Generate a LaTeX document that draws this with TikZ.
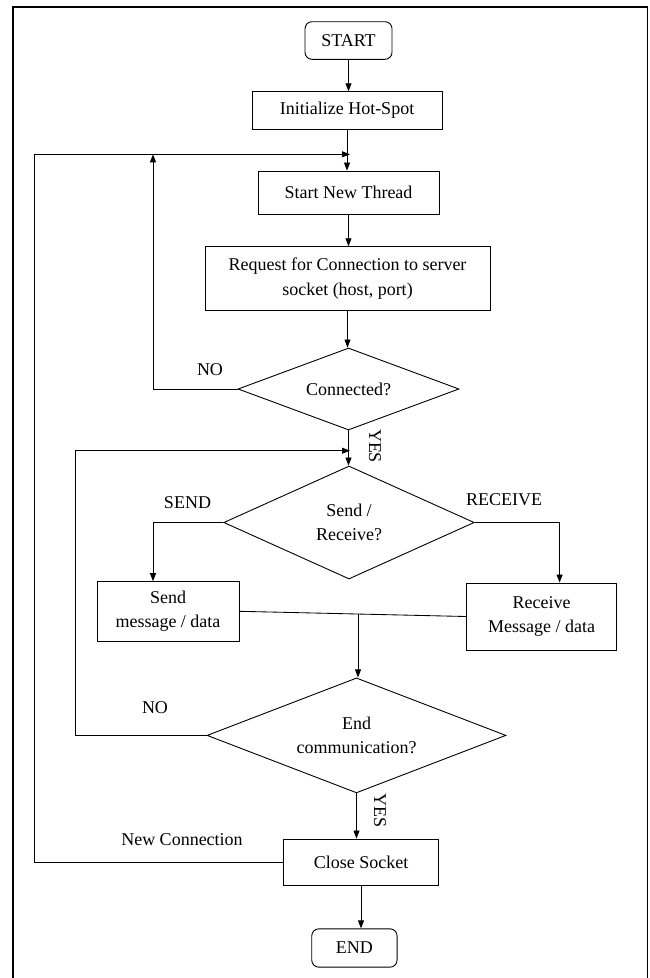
\documentclass[tikz,border=0pt]{standalone}
\usepackage{fontspec}
\setmainfont{Liberation Serif}
\usetikzlibrary{shapes.geometric,arrows.meta,calc}
\begin{document}
\begin{tikzpicture}[x=1pt,y=-1pt,
  every node/.style={font=\fontsize{18}{24.5}\selectfont},
  procbox/.style={draw, line width=0.9pt, inner sep=0pt, align=center},
  termbox/.style={procbox, rounded corners=7pt},
  decbox/.style={draw, line width=0.9pt, diamond, inner sep=0pt, align=center},
  arr/.style={line width=0.85pt, -{Triangle[length=8pt,width=6pt]}},
  ln/.style={line width=0.85pt},
  lbl/.style={inner sep=0pt}]
\useasboundingbox (0,0) rectangle (649,978);
% frame
\draw[line width=1.5pt] (13,978) -- (13,7) -- (647.5,7) -- (647.5,978);

\node[termbox, minimum width=87pt, minimum height=37.6pt] (start) at (348.5,40.5) {START};
\node[procbox, minimum width=190pt, minimum height=37.6pt] (init) at (347,110.5) {Initialize Hot-Spot};
\node[procbox, minimum width=181pt, minimum height=43pt] (thread) at (348.5,192.5) {Start New Thread};
\node[procbox, minimum width=285pt, minimum height=64pt] (req) at (347.5,278.7) {Request for Connection to server\\socket (host, port)};
\node[decbox, aspect=2.7, minimum width=221pt, minimum height=82pt] (conn) at (348.5,389) {Connected?};
\node[decbox, aspect=2.2, minimum width=250.5pt, minimum height=113pt] (sr) at (349,522.5) {Send /\\Receive?};
\node[procbox, minimum width=142pt, minimum height=59.3pt] (send) at (168,611.3) {Send\\message / data};
\node[procbox, minimum width=150pt, minimum height=67pt] (recv) at (541.6,616.5) {Receive\\Message / data};
\node[decbox, aspect=2.6, minimum width=299pt, minimum height=115pt] (enddec) at (356.5,735.4) {End\\communication?};
\node[procbox, minimum width=155pt, minimum height=46pt] (close) at (361,862) {Close Socket};
\node[termbox, minimum width=85.3pt, minimum height=38.3pt] (end) at (354.4,948) {END};

% junction coordinates
\coordinate (j1) at (350,154.3);
\coordinate (j2) at (350,450.7);
\coordinate (m) at ($(send.east)!0.523!(recv.west)$);

% main flow
\draw[arr] (start.south) -- (start.south |- init.north);
\draw[arr] (init.south) -- (init.south |- thread.north);
\draw[arr] (thread.south) -- (thread.south |- req.north);
\draw[arr] (req.south) -- (req.south |- conn.north);
\draw[arr] (conn.south) -- (conn.south |- sr.north);
\draw[arr] (sr.west) -| ([xshift=-15pt]send.north);
\draw[arr] (sr.east) -| ([xshift=18pt]recv.north);
\draw[ln] (send.east) -- (recv.west);
\draw[arr] (m) -- (m |- enddec.north);
\draw[arr] (enddec.south) -- (enddec.south |- close.north);
\draw[arr] (close.south) -- (close.south |- end.north);

% loops
\draw[arr] (conn.west) -| (153,154.3);
\draw[arr] (close.west) -| (34,154.3) -- (j1);
\draw[arr] (enddec.west) -| (75.7,450.7) -- (j2);

% labels
\node[lbl] (no1) at (210,370) {NO};
\node[lbl, rotate=-90] (yes1) at (375,446) {YES};
\node[lbl] (sendl) at (187.5,502.7) {SEND};
\node[lbl] (recvl) at (504,500) {RECEIVE};
\node[lbl] (no2) at (155,708) {NO};
\node[lbl, rotate=-90] (yes2) at (380,810) {YES};
\node[lbl] (newc) at (182,840) {New Connection};
\end{tikzpicture}
\end{document}
